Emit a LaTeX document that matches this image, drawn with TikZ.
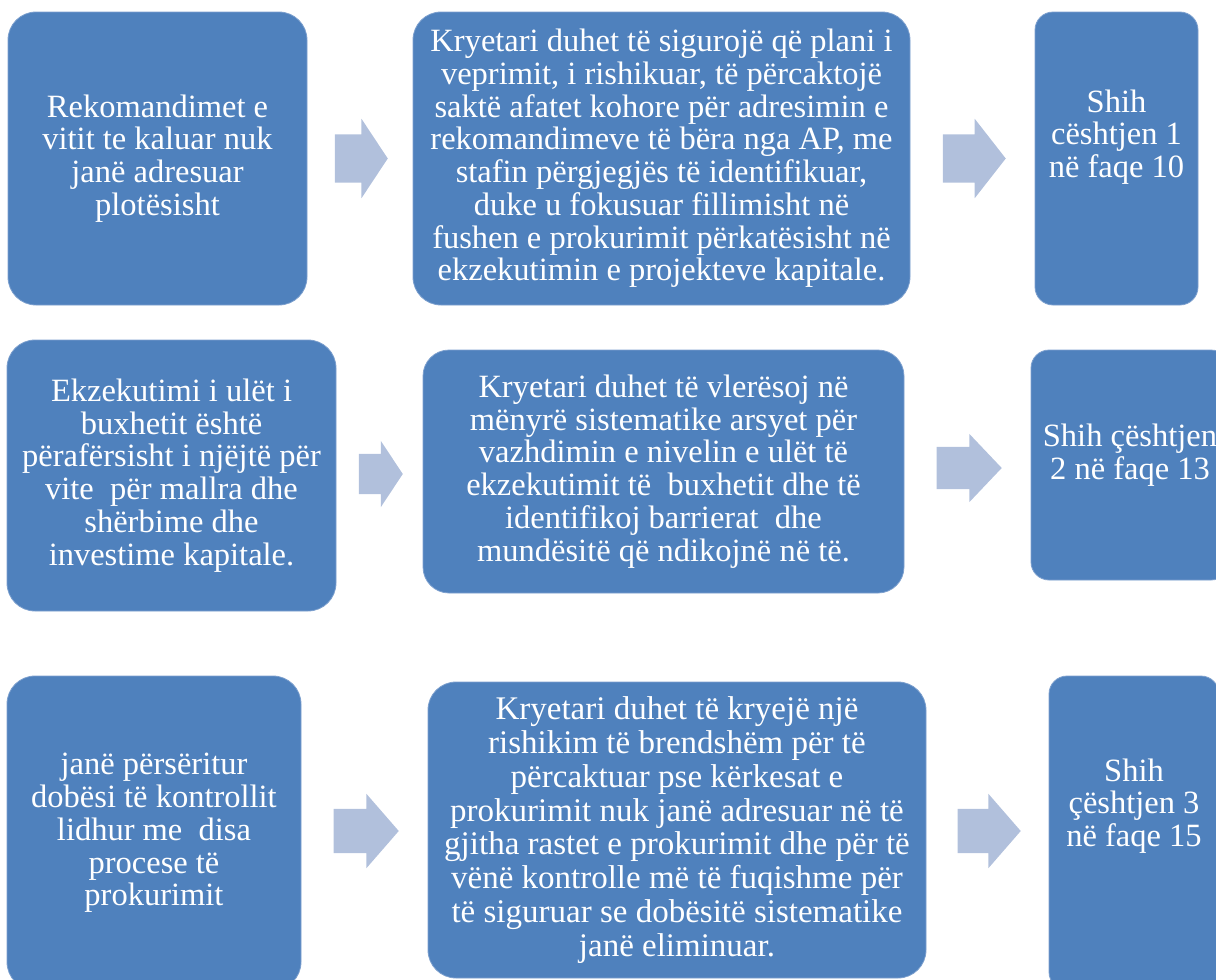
\documentclass[tikz,border=0pt]{standalone}
\usepackage{fontspec}
\setmainfont{Liberation Serif}
\usetikzlibrary{shapes.arrows}
\definecolor{boxblue}{RGB}{79,129,189}
\definecolor{boxedge}{RGB}{125,160,206}
\definecolor{arrowblue}{RGB}{177,192,220}
\tikzset{
  finding/.style={rectangle,rounded corners=28pt,fill=boxblue,draw=boxedge,line width=0.8pt,text=white,align=center,font=\fontsize{32.5}{32.7}\selectfont,inner sep=0pt},
  seebox/.style={finding,rounded corners=18pt},
  seetext/.style={text=white,align=center,font=\fontsize{32.5}{32.7}\selectfont,inner sep=0pt},
  flowarrow/.style={single arrow,fill=arrowblue,draw=none,inner xsep=0pt,anchor=tip,single arrow head indent=0pt}
}
\begin{document}
\begin{tikzpicture}[x=1pt,y=-1pt]
\useasboundingbox (0,0) rectangle (1216,980);
\clip (0,0) rectangle (1216,980);
% Row 1
\node[finding,minimum width=299pt,minimum height=293pt] (rec1) at (157.5,158.5) {Rekomandimet e\\vitit te kaluar nuk\\janë adresuar\\plotësisht};
\node[finding,minimum width=497pt,minimum height=293pt] (act1) at (661.5,158.5) {Kryetari duhet të sigurojë që plani i\\veprimit, i rishikuar, të përcaktojë\\saktë afatet kohore për adresimin e\\rekomandimeve të bëra nga AP, me\\stafin përgjegjës të identifikuar,\\duke u fokusuar fillimisht në\\fushen e prokurimit përkatësisht në\\ekzekutimin e projekteve kapitale.};
\node[seebox,minimum width=163pt,minimum height=293pt] (see1) at (1116.5,158.5) {};
\node[seetext] (see1txt) at (1116.5,137) {Shih\\cështjen 1\\në faqe 10};
\node[flowarrow,minimum height=53pt,inner ysep=24pt,single arrow head extend=15.5pt,single arrow tip angle=113] (arr11) at (388,158.5) {};
\node[flowarrow,minimum height=63pt,inner ysep=24pt,single arrow head extend=15.5pt,single arrow tip angle=104] (arr12) at (1006,158.5) {};
% Row 2
\node[finding,minimum width=329pt,minimum height=271pt] (rec2) at (171.5,475.5) {Ekzekutimi i ulët i\\buxhetit është\\përafërsisht i njëjtë për\\vite~ për mallra dhe\\shërbime dhe\\investime kapitale.};
\node[finding,minimum width=481pt,minimum height=243pt,rounded corners=26pt] (act2) at (663.5,471.5) {Kryetari duhet të vlerësoj në\\mënyrë sistematike arsyet për\\vazhdimin e nivelin e ulët të\\ekzekutimit të~ buxhetit dhe të\\identifikoj barrierat~ dhe\\mundësitë që ndikojnë në të.};
\node[seebox,minimum width=198pt,minimum height=230pt] (see2) at (1130,465) {};
\node[seetext] (see2txt) at (1130,455) {Shih çështjen\\2 në faqe 13};
\node[flowarrow,minimum height=44pt,inner ysep=20pt,single arrow head extend=13pt,single arrow tip angle=113] (arr21) at (403,474) {};
\node[flowarrow,minimum height=65pt,inner ysep=21pt,single arrow head extend=13pt,single arrow tip angle=93] (arr22) at (1002,468) {};
% Row 3
\node[finding,minimum width=294pt,minimum height=314pt] (rec3) at (154,833) {janë përsëritur\\dobësi të kontrollit\\lidhur me~ disa\\procese të\\prokurimit};
\node[finding,minimum width=498pt,minimum height=296pt,font=\fontsize{33}{33.8}\selectfont] (act3) at (677,830) {Kryetari duhet të kryejë një\\rishikim të brendshëm për të\\përcaktuar pse kërkesat e\\prokurimit nuk janë adresuar në të\\gjitha rastet e prokurimit dhe për të\\vënë kontrolle më të fuqishme për\\të siguruar se dobësitë sistematike\\janë eliminuar.};
\node[seebox,minimum width=170pt,minimum height=314pt] (see3) at (1134,833) {};
\node[seetext] (see3txt) at (1134,806) {Shih\\çështjen 3\\në faqe 15};
\node[flowarrow,minimum height=65pt,inner ysep=22pt,single arrow head extend=15pt,single arrow tip angle=98] (arr31) at (399,831) {};
\node[flowarrow,minimum height=63pt,inner ysep=22pt,single arrow head extend=15pt,single arrow tip angle=98] (arr32) at (1021,831) {};
\end{tikzpicture}
\end{document}
